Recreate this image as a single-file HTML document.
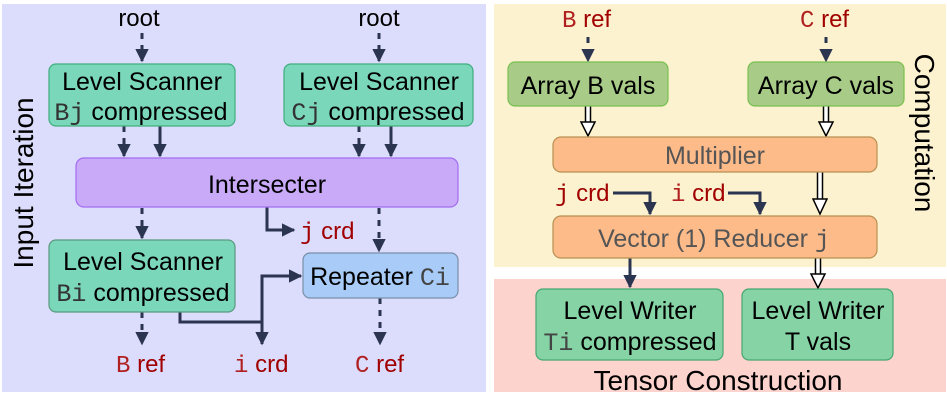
<!DOCTYPE html>
<html><head><meta charset="utf-8"><style>
html,body{margin:0;padding:0;background:#fff;}
svg{display:block;}
text{font-family:"Liberation Sans",sans-serif;}
.m{font-family:"Liberation Mono",monospace;}
</style></head><body>
<svg width="947" height="401" viewBox="0 0 947 401" xmlns="http://www.w3.org/2000/svg">
<defs>
<marker id="a" viewBox="0 0 10 10" refX="9" refY="5" markerWidth="4.5" markerHeight="4.5" orient="auto" markerUnits="strokeWidth"><path d="M0,0 L10,5 L0,10 Z" fill="#2b3550"/></marker>
</defs>
<rect x="2" y="4" width="484" height="388" fill="#dcdcfc"/>
<rect x="494" y="4" width="452" height="263" fill="#fdf2cf"/>
<rect x="494" y="279" width="452" height="113" fill="#fdd3ce"/>

<text transform="translate(33,183) rotate(-90)" text-anchor="middle" font-size="28" fill="#000">Input Iteration</text>
<text transform="translate(915,133) rotate(90)" text-anchor="middle" font-size="28" fill="#000">Computation</text>
<text x="718" y="390" text-anchor="middle" font-size="28" fill="#000">Tensor Construction</text>

<g stroke="#2b3550" stroke-width="3" fill="none">
<g stroke-dasharray="6,6">
<line x1="142" y1="33" x2="142" y2="61" marker-end="url(#a)"/>
<line x1="379" y1="33" x2="379" y2="61" marker-end="url(#a)"/>
<line x1="124" y1="126" x2="124" y2="156" marker-end="url(#a)"/>
<line x1="359" y1="126" x2="359" y2="156" marker-end="url(#a)"/>
<line x1="142" y1="208" x2="142" y2="238" marker-end="url(#a)"/>
<line x1="379" y1="208" x2="379" y2="251" marker-end="url(#a)"/>
<line x1="142" y1="312" x2="142" y2="344" marker-end="url(#a)"/>
<line x1="380" y1="298" x2="380" y2="344" marker-end="url(#a)"/>
<line x1="588" y1="37" x2="588" y2="61" marker-end="url(#a)"/>
<line x1="826" y1="37" x2="826" y2="61" marker-end="url(#a)"/>
</g>
<line x1="160" y1="126" x2="160" y2="156" marker-end="url(#a)"/>
<line x1="391" y1="126" x2="391" y2="156" marker-end="url(#a)"/>
<polyline points="267,207 267,230 294,230" marker-end="url(#a)"/>
<polyline points="180,312 180,322 262,322 262,344" marker-end="url(#a)"/>
<polyline points="262,322 262,276 301,276" marker-end="url(#a)"/>
<polyline points="613,193 650,193 650,214" marker-end="url(#a)"/>
<polyline points="728,193 760,193 760,214" marker-end="url(#a)"/>
<line x1="630" y1="258" x2="630" y2="287" marker-end="url(#a)"/>
</g>

<g fill="#fff" stroke="#000" stroke-width="1.5">
<rect x="585.5" y="105" width="5" height="18" rx="2"/><path d="M581,122 L595,122 L588,136 Z"/>
<rect x="823.5" y="105" width="5" height="18" rx="2"/><path d="M819,122 L833,122 L826,136 Z"/>
<rect x="817.5" y="170" width="5" height="30" rx="2"/><path d="M813,199 L827,199 L820,214 Z"/>
<rect x="815.5" y="257" width="5" height="18" rx="2"/><path d="M811,274 L825,274 L818,288 Z"/>
</g>

<g stroke-width="1.2">
<rect x="49" y="64" width="186" height="62" rx="7" fill="#7bd7b9" stroke="#3fae7e"/>
<rect x="284" y="64" width="189" height="62" rx="7" fill="#7bd7b9" stroke="#3fae7e"/>
<rect x="76" y="158" width="382" height="49" rx="8" fill="#c9aaf8" stroke="#a36cf0"/>
<rect x="49" y="240" width="186" height="72" rx="7" fill="#7bd7b9" stroke="#5a9a80"/>
<rect x="303" y="253" width="155" height="45" rx="7" fill="#a8cbf8" stroke="#7a90a8"/>
<rect x="508" y="62" width="160" height="44" rx="7" fill="#a8cc88" stroke="#7ac050"/>
<rect x="748" y="62" width="156" height="44" rx="7" fill="#a8cc88" stroke="#7ac050"/>
<rect x="553" y="137" width="324" height="35" rx="8" fill="#fdbb8a" stroke="#b89050"/>
<rect x="553" y="216" width="324" height="42" rx="8" fill="#fdbb8a" stroke="#b89050"/>
<rect x="536" y="289" width="187" height="71" rx="7" fill="#86d3a5" stroke="#45a870"/>
<rect x="742" y="289" width="151" height="71" rx="7" fill="#86d3a5" stroke="#45a870"/>
</g>

<g font-size="24" fill="#000" text-anchor="middle">
<text x="139" y="26">root</text>
<text x="379" y="26">root</text>
</g>
<g font-size="25" fill="#000" text-anchor="middle">
<text x="142" y="90">Level Scanner</text>
<text x="141" y="120"><tspan class="m" fill="#333">Bj</tspan> compressed</text>
<text x="379" y="90">Level Scanner</text>
<text x="378" y="120"><tspan class="m" fill="#333">Cj</tspan> compressed</text>
<text x="267" y="193">Intersecter</text>
<text x="143" y="270">Level Scanner</text>
<text x="143" y="301"><tspan class="m" fill="#333">Bi</tspan> compressed</text>
<text x="380" y="285">Repeater <tspan class="m" fill="#444">Ci</tspan></text>
<text x="588" y="94">Array B vals</text>
<text x="826" y="94">Array C vals</text>
<text x="715" y="164" fill="#555">Multiplier</text>
<text x="714" y="247" fill="#555">Vector (1) Reducer <tspan class="m">j</tspan></text>
<text x="630" y="319">Level Writer</text>
<text x="630" y="350"><tspan class="m" fill="#444">Ti</tspan> compressed</text>
<text x="818" y="319">Level Writer</text>
<text x="818" y="350">T vals</text>
</g>
<g font-size="24" fill="#a00000">
<text x="300" y="239"><tspan class="m">j</tspan> crd</text>
<text x="116" y="372"><tspan class="m" fill="#b02020">B</tspan> ref</text>
<text x="234" y="372"><tspan class="m" fill="#b02020">i</tspan> crd</text>
<text x="355" y="372"><tspan class="m" fill="#b02020">C</tspan> ref</text>
<text x="562" y="27"><tspan class="m" fill="#b02020">B</tspan> ref</text>
<text x="800" y="27"><tspan class="m" fill="#b02020">C</tspan> ref</text>
<text x="555" y="201"><tspan class="m">j</tspan> crd</text>
<text x="671" y="201"><tspan class="m" fill="#b02020">i</tspan> crd</text>
</g>
</svg>
</body></html>
